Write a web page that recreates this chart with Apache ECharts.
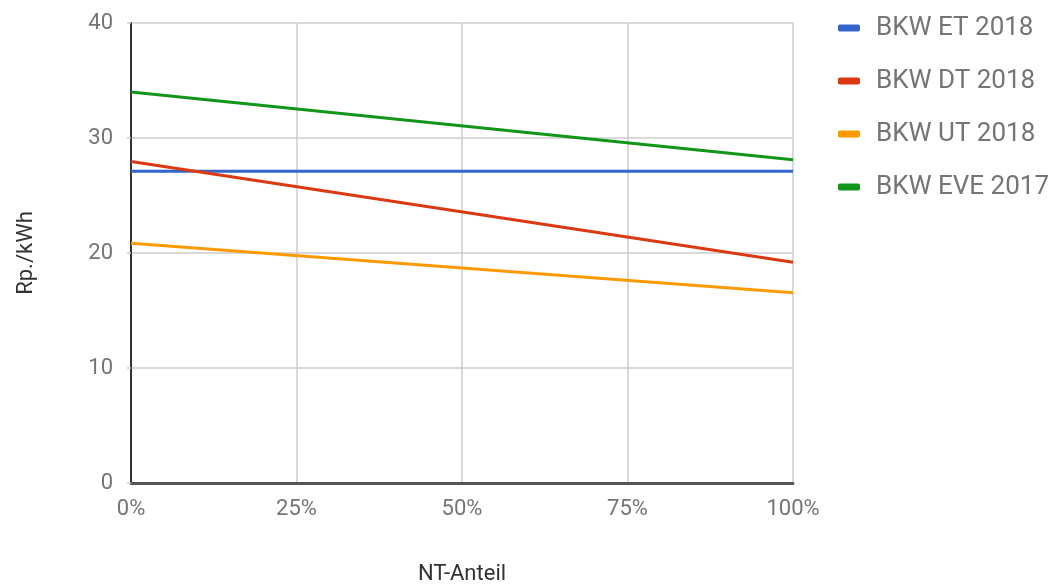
<!DOCTYPE html>
<html>
<head>
<meta charset="utf-8">
<script src="https://cdn.jsdelivr.net/npm/echarts@6/dist/echarts.min.js"></script>
<style>
html,body{margin:0;padding:0;background:#fff;}
#c{width:1064px;height:584px;}
</style>
</head>
<body>
<div id="c"></div>
<script>
const seriesNames = ['BKW ET 2018', 'BKW DT 2018', 'BKW UT 2018', 'BKW EVE 2017'];
const ntShare = [0, 100];
const etValues = [27.1, 27.1];
const dtValues = [27.95, 19.2];
const utValues = [20.85, 16.55];
const eveValues = [34.0, 28.1];
const colors = ['#3366cc', '#dc3912', '#ff9900', '#109618'];
const yTicks = { min: 0, max: 40, interval: 10 };
const xTicks = { min: 0, max: 100, interval: 25 };

const allValues = [etValues, dtValues, utValues, eveValues];
const chart = echarts.init(document.getElementById('c'), null, { renderer: 'canvas' });
const font = 'Roboto, "Noto Sans", sans-serif';

chart.setOption({
  animation: false,
  color: colors,
  textStyle: { fontFamily: font },
  grid: { left: 131, right: 271, top: 23, bottom: 101, containLabel: false, outerBoundsMode: 'none' },
  legend: {
    orient: 'vertical',
    left: 833,
    top: 10,
    itemWidth: 22,
    itemHeight: 7,
    itemGap: 27,
    icon: 'roundRect',
    textStyle: { fontSize: 26, color: '#757575', fontFamily: font, padding: [0, 0, 0, 11] },
    data: seriesNames
  },
  xAxis: {
    type: 'value',
    min: xTicks.min, max: xTicks.max, interval: xTicks.interval,
    name: 'NT-Anteil',
    nameLocation: 'middle',
    nameGap: 80,
    nameTextStyle: { fontSize: 22, color: '#333', fontFamily: font },
    axisLine: { show: true, onZero: false, lineStyle: { color: '#555', width: 3 } },
    axisTick: { show: false },
    axisLabel: { fontSize: 22, color: '#757575', margin: 15, formatter: '{value}%' },
    splitLine: { show: true, lineStyle: { color: '#cccccc', width: 1.5 } }
  },
  yAxis: {
    type: 'value',
    min: yTicks.min, max: yTicks.max, interval: yTicks.interval,
    name: 'Rp./kWh',
    nameLocation: 'middle',
    nameGap: 94,
    nameTextStyle: { fontSize: 22, color: '#333', fontFamily: font },
    axisLine: { show: true, lineStyle: { color: '#333', width: 2 } },
    axisTick: { show: true, length: 4, lineStyle: { color: '#cccccc', width: 1.5 } },
    axisLabel: { fontSize: 22, color: '#757575', margin: 18 },
    splitLine: { show: true, lineStyle: { color: '#cccccc', width: 1.5 } }
  },
  series: seriesNames.map((n, i) => ({
    name: n,
    type: 'line',
    showSymbol: false,
    symbol: 'none',
    lineStyle: { width: 3, color: colors[i] },
    itemStyle: { color: colors[i] },
    data: ntShare.map((x, j) => [x, allValues[i][j]])
  }))
});
</script>
</body>
</html>
